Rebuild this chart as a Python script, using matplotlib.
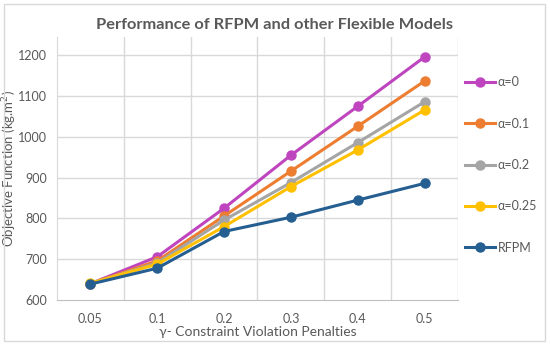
import matplotlib.pyplot as plt
from matplotlib.patches import Rectangle

plt.rcParams['font.family'] = ['Lato', 'DejaVu Sans']

# categories on the x axis
penalties = ['0.05', '0.1', '0.2', '0.3', '0.4', '0.5']

# objective function values per model
alpha_0 = [640, 706, 825, 955, 1075, 1196]
alpha_01 = [640, 696, 806, 916, 1026, 1137]
alpha_02 = [640, 691, 796, 888, 986, 1086]
alpha_025 = [641, 688, 780, 878, 968, 1066]
rfpm = [639, 678, 768, 803, 845, 886]

series = [
    ('α=0', alpha_0, '#BF45BF'),
    ('α=0.1', alpha_01, '#ED7D31'),
    ('α=0.2', alpha_02, '#A5A5A5'),
    ('α=0.25', alpha_025, '#FFC000'),
    ('RFPM', rfpm, '#255E91'),
]

fig = plt.figure(figsize=(5.5, 3.45), dpi=100)
ax = fig.add_axes([0.1036, 0.1304, 0.7291, 0.7624])

x = range(len(penalties))
for label, values, color in series:
    ax.plot(x, values, color=color, lw=2.2, marker='o', ms=6.5, label=label)

txt = '#595959'
grid = '#D9D9D9'

ax.set_xlim(-0.5, len(penalties) - 0.5)
ax.set_ylim(600, 1245)
ax.set_yticks(range(600, 1201, 100))
ax.set_xticks(list(x))
ax.set_xticklabels(penalties)
ax.tick_params(length=0, colors=txt, labelsize=9)
ax.tick_params(axis='x', pad=9)
ax.tick_params(axis='y', pad=7)

# Excel-like grid: horizontal at ticks, vertical between categories
for v in range(700, 1201, 100):
    ax.axhline(v, color=grid, lw=1, zorder=0)
for b in range(1, len(penalties) + 1):
    ax.axvline(b - 0.5, color=grid, lw=1, zorder=0)

for s in ['top', 'right']:
    ax.spines[s].set_visible(False)
ax.spines['left'].set_color(grid)
ax.spines['bottom'].set_color('#BFBFBF')

ax.set_xlabel('γ- Constraint Violation Penalties', color=txt, fontsize=10, labelpad=1)
ax.set_ylabel('Objective Function (kg.m$^2$)', color=txt, fontsize=9.5)
ax.yaxis.set_label_coords(-0.095, 0.5)

fig.text(0.5, 0.927, 'Performance of RFPM and other Flexible Models',
         ha='center', va='center', fontsize=11.8, fontweight='bold', color=txt)

ax.legend(loc='upper left', bbox_to_anchor=(1.005, 0.87), frameon=False,
          fontsize=9, labelcolor=txt, labelspacing=2.35, handlelength=2.4,
          handletextpad=0.2, borderaxespad=0)

fig.add_artist(Rectangle((0.007, 0.012), 0.984, 0.976, transform=fig.transFigure,
                         fill=False, edgecolor='#D9D9D9', lw=1))

fig.savefig('out.png', dpi=100)
